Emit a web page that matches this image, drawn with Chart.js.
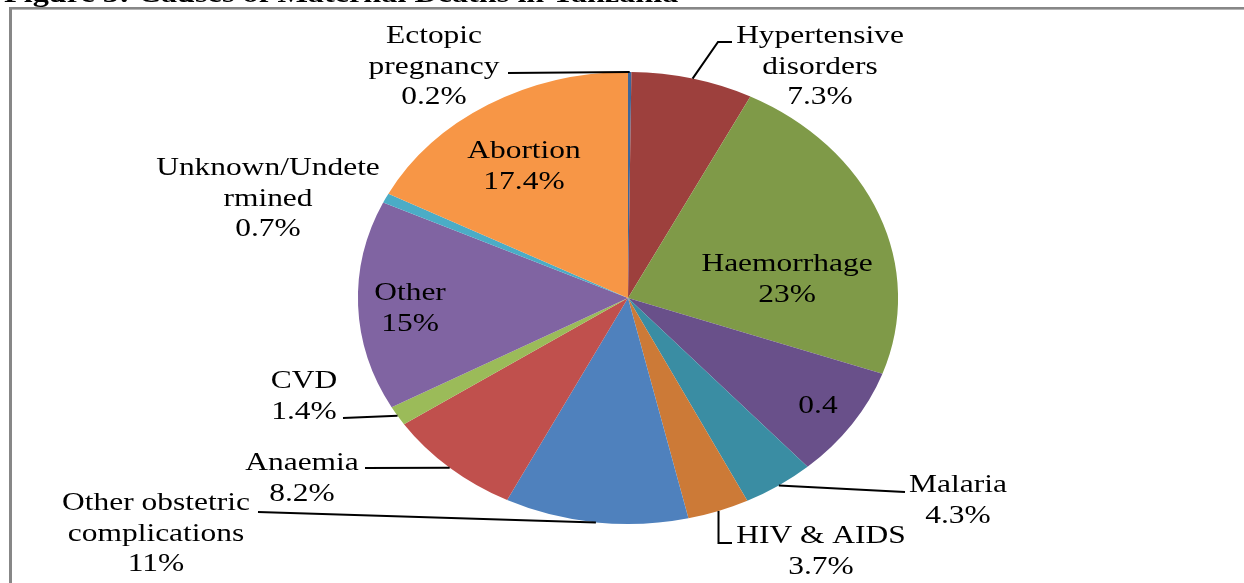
<!DOCTYPE html>
<html>
<head>
<meta charset="utf-8">
<script src="https://cdn.jsdelivr.net/npm/chart.js@4.4.0/dist/chart.umd.min.js"></script>
<style>
html,body{margin:0;padding:0;background:#fff;overflow:hidden}
#wrap{position:relative;width:1244px;height:583px}
</style>
</head>
<body>
<div id="wrap"><canvas id="c"></canvas></div>
<script>
// ---- data ----
const titleText = 'Figure 3: Causes of Maternal Deaths in Tanzania';
const categories = ['Ectopic pregnancy','Hypertensive disorders','Haemorrhage','(unnamed)','Malaria','HIV & AIDS',
  'Other obstetric complications','Anaemia','CVD','Other','Unknown/Undetermined','Abortion'];
const values = [0.2, 7.3, 23, 8.0, 4.3, 3.7, 11, 8.2, 1.4, 15, 0.7, 17.4];
const valueLabels = ['0.2%','7.3%','23%','0.4','4.3%','3.7%','11%','8.2%','1.4%','15%','0.7%','17.4%'];
const nameLines = [['Ectopic','pregnancy'],['Hypertensive','disorders'],['Haemorrhage'],[],['Malaria'],['HIV & AIDS'],
  ['Other obstetric','complications'],['Anaemia'],['CVD'],['Other'],['Unknown/Undete','rmined'],['Abortion']];

// ---- styles ----
const colors = ['#3C679B','#9D403D','#7F9A48','#69508A','#3A8DA3','#CC7A37',
  '#4F81BD','#C0504D','#9BBB59','#8064A2','#4BACC6','#F79646'];
const SX = 1.195;   // horizontal stretch of the pie
const TX = 1.21;    // horizontal stretch of the text
const FONT = '26px "Liberation Serif", "Times New Roman", serif';
const LINE_H = 30.5;
// label layout: centre x, first baseline, leader elbows (page px)
const labelLayout = [
  {cx:434, y:43, leader:[[508,73]]},
  {cx:820, y:43, leader:[[718,42],[732,42]]},
  {cx:787, y:271},
  {cx:818, y:413},
  {cx:958, y:492, leader:[[905,492]]},
  {cx:821, y:543, leader:[[717,543],[732,543]], vertical:true},
  {cx:156, y:510, leader:[[258,512]]},
  {cx:302, y:470, leader:[[365,468]]},
  {cx:304, y:388, leader:[[343,418]]},
  {cx:410, y:300},
  {cx:268, y:175},
  {cx:524, y:158}
];

const stretchPlugin = {
  id:'stretch',
  beforeDatasetsDraw(chart){
    const a = chart.getDatasetMeta(0).data[0];
    const ctx = chart.ctx;
    ctx.save();
    ctx.translate(a.x, 0); ctx.scale(SX, 1); ctx.translate(-a.x, 0);
  },
  afterDatasetsDraw(chart){ chart.ctx.restore(); }
};

function stretchedText(ctx, txt, x, y, font, sx){
  ctx.save();
  ctx.font = font;
  ctx.translate(x, y); ctx.scale(sx, 1);
  ctx.fillText(txt, 0, 0);
  ctx.restore();
}

const labelPlugin = {
  id:'labels',
  afterDraw(chart){
    const ctx = chart.ctx;
    const arcs = chart.getDatasetMeta(0).data;
    ctx.save();
    // frame
    ctx.fillStyle = '#878787';
    ctx.fillRect(9, 7, 1300, 2);
    ctx.fillRect(9, 7, 3, 700);
    ctx.fillStyle = '#b5b5b5';
    ctx.fillRect(12, 9, 1300, 1);
    // cropped title
    ctx.fillStyle = '#000';
    ctx.textAlign = 'left'; ctx.textBaseline = 'alphabetic';
    stretchedText(ctx, titleText, 4, 1.5, 'bold 26px "Liberation Serif", "Times New Roman", serif', 1.24);
    // leaders
    ctx.strokeStyle = '#000'; ctx.lineWidth = 2;
    arcs.forEach((el, i) => {
      const L = labelLayout[i];
      if (!L.leader) return;
      const mid = (el.startAngle + el.endAngle) / 2;
      const ax = el.x + Math.cos(mid) * el.outerRadius * SX;
      const ay = el.y + Math.sin(mid) * el.outerRadius;
      ctx.beginPath();
      ctx.moveTo(ax, ay);
      L.leader.forEach((p, k) => {
        if (L.vertical && k === 0) ctx.lineTo(ax, p[1]); else ctx.lineTo(p[0], p[1]);
      });
      ctx.stroke();
    });
    // texts
    ctx.textAlign = 'center';
    ctx.fillStyle = '#000';
    arcs.forEach((el, i) => {
      const L = labelLayout[i];
      const lines = nameLines[i].concat([valueLabels[i]]);
      lines.forEach((t, k) => stretchedText(ctx, t, L.cx, L.y + k * LINE_H, FONT, TX));
    });
    ctx.restore();
  }
};

new Chart(document.getElementById('c'), {
  type: 'pie',
  data: {
    labels: categories,
    datasets: [{ data: values, backgroundColor: colors, borderWidth: 0, hoverOffset: 0, offset: 0, clip: false }]
  },
  options: {
    responsive: true, maintainAspectRatio: false, animation: false, events: [],
    layout: { padding: { left: 402, right: 390, top: 72, bottom: 59 } },
    plugins: { legend: { display: false }, tooltip: { enabled: false }, title: { display: false } }
  },
  plugins: [stretchPlugin, labelPlugin]
});
</script>
</body>
</html>
